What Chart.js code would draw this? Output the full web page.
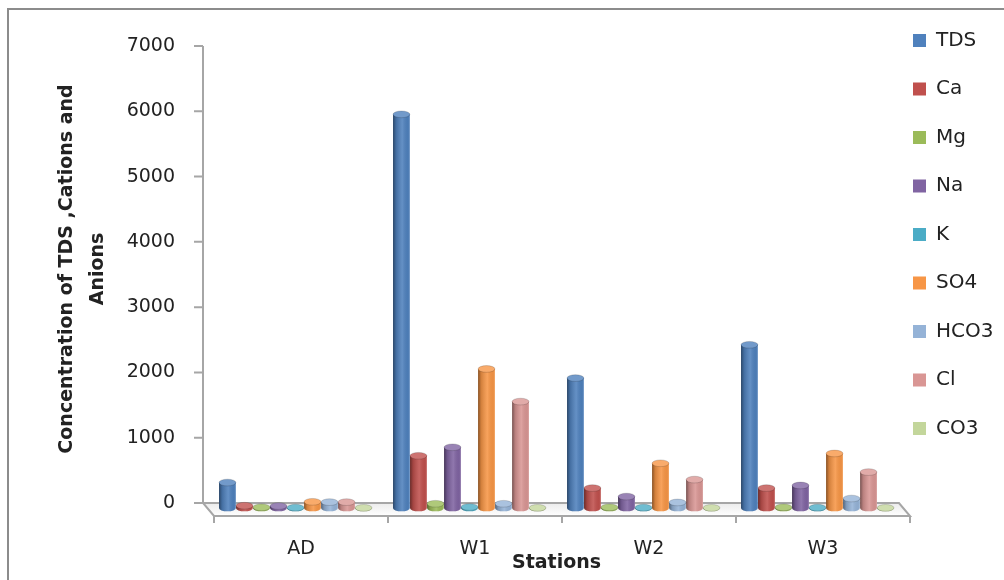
<!DOCTYPE html>
<html>
<head>
<meta charset="utf-8">
<script src="https://cdn.jsdelivr.net/npm/chart.js@4.4.1/dist/chart.umd.min.js"></script>
<style>
  html, body { margin: 0; padding: 0; background: #fff; }
  #wrap { width: 1004px; height: 580px; }
</style>
</head>
<body>
<div id="wrap"><canvas id="ionsChart" width="1004" height="580"></canvas></div>
<script>
// values (mg/l)
const stations = ["AD", "W1", "W2", "W3"];
const tds  = [390, 6030, 1990, 2500];
const ca   = [35, 800, 305, 305];
const mg   = [10, 65, 10, 10];
const na   = [30, 930, 175, 345];
const k    = [5, 15, 5, 5];
const so4  = [95, 2130, 685, 835];
const hco3 = [90, 65, 85, 145];
const cl   = [90, 1630, 435, 550];
const co3  = [2, 2, 2, 2];

const yTicks = [0, 1000, 2000, 3000, 4000, 5000, 6000, 7000];

// layout (pixels)
const PLOT_LEFT = 208.5;
const AREA_TOP = 22, AREA_BOTTOM = 516;
const WALL_ZERO = 503, BAR_ZERO = 508;
const PX = 457 / 7000;   // pixels per unit
const DEPTH = 5.5;       // half the floor depth, horizontally

const FONT = "'DejaVu Sans', sans-serif";
const TEXT = "#222";

function lighten(hex, f) {
  const n = parseInt(hex.slice(1), 16);
  const r = (n >> 16) & 255, g = (n >> 8) & 255, b = n & 255;
  const m = c => Math.round(c + (255 - c) * f);
  return `rgb(${m(r)},${m(g)},${m(b)})`;
}

const frame3d = {
  id: "frame3d",
  beforeDraw(chart) {
    const ctx = chart.ctx;
    ctx.save();
    ctx.strokeStyle = "#8c8c8c";
    ctx.lineWidth = 2;
    ctx.strokeRect(8, 9, chart.width + 20, chart.height + 20);
    ctx.restore();
  },
  beforeDatasetsDraw(chart) {
    const { ctx, chartArea: a, scales: { y } } = chart;
    const y0 = y.getPixelForValue(0);
    const yTop = y.getPixelForValue(7000);
    const bl = a.left - DEPTH, fl = a.left + DEPTH;
    const br = a.right - DEPTH, fr = a.right + DEPTH;
    const fy = a.bottom;
    ctx.save();
    // floor
    const g = ctx.createLinearGradient(0, y0, 0, fy);
    g.addColorStop(0, "#ebebeb");
    g.addColorStop(1, "#ffffff");
    ctx.beginPath();
    ctx.moveTo(bl, y0); ctx.lineTo(br, y0); ctx.lineTo(fr, fy); ctx.lineTo(fl, fy); ctx.closePath();
    ctx.fillStyle = g;
    ctx.fill();
    ctx.strokeStyle = "#a6a6a6";
    ctx.lineWidth = 2;
    ctx.stroke();
    // wall axis and ticks
    ctx.beginPath();
    ctx.moveTo(bl, yTop); ctx.lineTo(bl, y0);
    yTicks.forEach(v => {
      const py = y.getPixelForValue(v);
      ctx.moveTo(bl - 9, py); ctx.lineTo(bl, py);
    });
    // category ticks under the floor front
    const cat = (a.right - a.left) / stations.length;
    for (let i = 0; i <= stations.length; i++) {
      const px = a.left + i * cat + DEPTH;
      ctx.moveTo(px, fy); ctx.lineTo(px, fy + 7);
    }
    ctx.stroke();
    ctx.restore();
  },
  afterDatasetsDraw(chart) {
    const ctx = chart.ctx;
    ctx.save();
    chart.data.datasets.forEach((ds, di) => {
      const meta = chart.getDatasetMeta(di);
      meta.data.forEach(bar => {
        const { x, y, base, width } = bar.getProps(["x", "y", "base", "width"], true);
        const l = x - width / 2, ry = width * 0.2;
        const sh = ctx.createLinearGradient(l, 0, l + width, 0);
        sh.addColorStop(0, "rgba(0,0,0,0.45)");
        sh.addColorStop(0.18, "rgba(0,0,0,0.15)");
        sh.addColorStop(0.55, "rgba(255,255,255,0.12)");
        sh.addColorStop(0.88, "rgba(0,0,0,0.05)");
        sh.addColorStop(1, "rgba(255,255,255,0.15)");
        // bottom rim
        ctx.beginPath();
        ctx.ellipse(x, base, width / 2, ry, 0, 0, Math.PI);
        ctx.fillStyle = ds.backgroundColor;
        ctx.fill();
        ctx.fillStyle = sh;
        ctx.fill();
        // body shading
        ctx.fillRect(l, y, width, base - y);
        // top cap
        ctx.beginPath();
        ctx.ellipse(x, y, width / 2, ry, 0, 0, Math.PI * 2);
        ctx.fillStyle = lighten(ds.backgroundColor, 0.2);
        ctx.fill();
        ctx.strokeStyle = "rgba(0,0,0,0.2)";
        ctx.lineWidth = 0.8;
        ctx.stroke();
      });
    });
    ctx.restore();
  }
};

const series = [
  ["TDS", tds, "#4F81BD"],
  ["Ca", ca, "#C0504D"],
  ["Mg", mg, "#9BBB59"],
  ["Na", na, "#8064A2"],
  ["K", k, "#4BACC6"],
  ["SO4", so4, "#F79646"],
  ["HCO3", hco3, "#95B3D7"],
  ["Cl", cl, "#D99694"],
  ["CO3", co3, "#C3D69B"]
];

const ctx = document.getElementById("ionsChart").getContext("2d");

new Chart(ctx, {
  type: "bar",
  data: {
    labels: stations,
    datasets: series.map(([label, data, color]) => ({
      label: label,
      data: data,
      backgroundColor: color,
      borderWidth: 0,
      yAxisID: "yb",
      categoryPercentage: 0.88,
      barPercentage: 0.99
    }))
  },
  options: {
    responsive: false,
    animation: false,
    devicePixelRatio: 1,
    layout: { padding: { left: 0, top: AREA_TOP, right: 4, bottom: 0 } },
    scales: {
      x: {
        grid: { display: false, drawTicks: false },
        border: { display: false },
        ticks: { padding: 22, labelOffset: DEPTH, color: TEXT, font: { family: FONT, size: 19 } },
        title: {
          display: true,
          text: "Stations",
          color: TEXT,
          font: { family: FONT, size: 19, weight: "bold" },
          padding: { top: 0, bottom: 6 }
        },
        afterFit: s => { s.height = 580 - AREA_BOTTOM; s.paddingLeft = 0; s.paddingRight = 0; }
      },
      y: {
        position: "left",
        min: -(AREA_BOTTOM - WALL_ZERO) / PX,
        max: (WALL_ZERO - AREA_TOP) / PX,
        grid: { display: false, drawTicks: false },
        border: { display: false },
        afterBuildTicks: s => { s.ticks = yTicks.map(v => ({ value: v })); },
        afterFit: s => { s.width = PLOT_LEFT; s.paddingTop = 0; s.paddingBottom = 0; },
        ticks: { padding: 33.5, color: TEXT, font: { family: FONT, size: 19 }, callback: v => String(v) },
        title: {
          display: true,
          text: ["Concentration of TDS ,Cations and", "Anions"],
          color: TEXT,
          font: { family: FONT, size: 19, weight: "bold", lineHeight: 1.63 },
          padding: { top: 51.5, bottom: 0 }
        }
      },
      yb: {
        display: false,
        min: -(AREA_BOTTOM - BAR_ZERO) / PX,
        max: (BAR_ZERO - AREA_TOP) / PX
      }
    },
    plugins: {
      legend: {
        position: "right",
        align: "start",
        maxWidth: 95.5,
        labels: {
          boxWidth: 13,
          boxHeight: 13,
          padding: 8.5,
          color: TEXT,
          font: { family: FONT, size: 20, lineHeight: 2 },
          generateLabels: chart =>
            Chart.defaults.plugins.legend.labels.generateLabels(chart).map(l => ({ ...l, text: [l.text] }))
        }
      },
      tooltip: { enabled: false }
    }
  },
  plugins: [frame3d]
});
</script>
</body>
</html>
